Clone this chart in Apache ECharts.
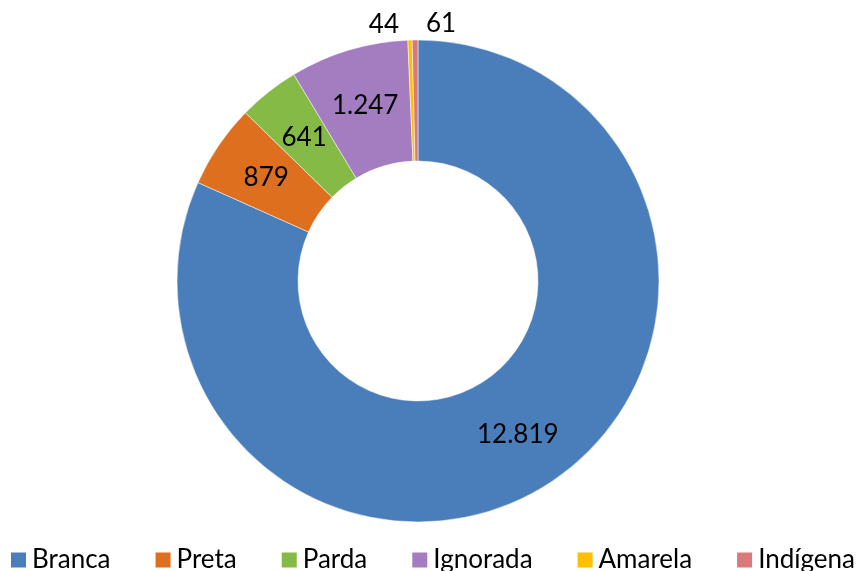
<!DOCTYPE html>
<html>
<head>
<meta charset="utf-8">
<script src="https://cdn.jsdelivr.net/npm/echarts@6/dist/echarts.min.js"></script>
<style>
  html, body { margin: 0; padding: 0; background: #ffffff; }
  #chart { width: 864px; height: 571px; }
</style>
</head>
<body>
<div id="chart"></div>
<script>
// Population by race/colour
const categories = ['Branca', 'Preta', 'Parda', 'Ignorada', 'Amarela', 'Indígena'];
const values = [12819, 879, 641, 1247, 44, 61];
const colors = ['#4A7EBB', '#DD6F1F', '#86BA46', '#A47DC1', '#FFC000', '#D87A79'];

const FONT = 'Lato, "Open Sans", sans-serif';

// Small slices get their value label above the ring
const outsideOffsets = {
  'Amarela': [-6, -16],
  'Indígena': [46, -16]
};

const fmt = v => v.toLocaleString('pt-BR');

const data = categories.map((name, i) => {
  const item = { name, value: values[i], itemStyle: { color: colors[i] } };
  if (outsideOffsets[name]) {
    item.label = { position: 'outside', offset: outsideOffsets[name] };
    item.labelLine = { show: false, length: 0, length2: 0 };
  }
  return item;
});

const chart = echarts.init(document.getElementById('chart'));
chart.setOption({
  animation: false,
  legend: {
    bottom: -7,
    left: 'center',
    itemWidth: 17,
    itemHeight: 17,
    itemGap: 43,
    icon: 'rect',
    textStyle: { fontFamily: FONT, fontSize: 26, color: '#000' },
    data: categories
  },
  series: [{
    type: 'pie',
    center: [418, 281],
    radius: [120, 241],
    startAngle: 90,
    clockwise: true,
    avoidLabelOverlap: false,
    itemStyle: { borderColor: '#ffffff', borderWidth: 0.5 },
    label: {
      show: true,
      position: 'inside',
      formatter: p => fmt(p.value),
      fontFamily: FONT,
      fontSize: 26,
      color: '#000'
    },
    labelLine: { show: false },
    emphasis: { disabled: true },
    data
  }]
});
</script>
</body>
</html>
